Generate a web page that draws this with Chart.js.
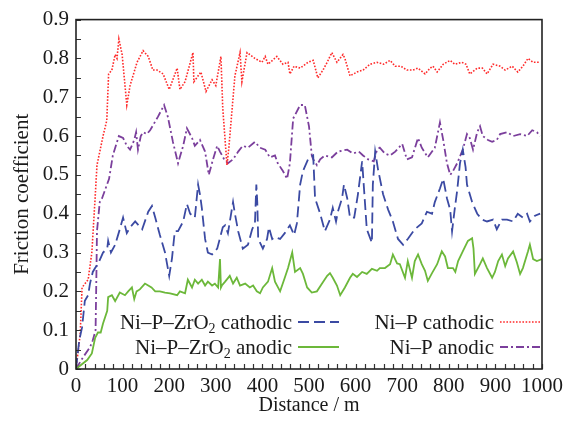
<!DOCTYPE html>
<html>
<head>
<meta charset="utf-8">
<script src="https://cdn.jsdelivr.net/npm/chart.js@4"></script>
<style>
  html, body { margin: 0; padding: 0; background: #fff; }
  canvas { display: block; }
</style>
</head>
<body>
<canvas id="frictionChart" width="568" height="425"></canvas>
<script>
// series labels (the "2" after ZrO is drawn as a subscript)
const seriesNames = ["Ni–P–ZrO2 cathodic", "Ni–P–ZrO2 anodic", "Ni–P cathodic", "Ni–P anodic"];

// x tick labels
const distanceTicks = [0, 100, 200, 300, 400, 500, 600, 700, 800, 900, 1000];

// Ni-P-ZrO2 cathodic (blue dashed)
const zrCathodicDist = [0, 7, 13, 19, 26, 30, 36, 41, 47, 58, 67, 69, 75, 84, 94, 101, 109, 116, 127, 142, 155, 163, 170, 180, 191, 200, 206, 212, 219, 230, 238, 245, 255, 262, 266, 270, 277, 283, 292, 303, 315, 320, 326, 337, 341, 348, 358, 369, 378, 384, 387, 389, 391, 401, 410, 414, 421, 427, 438, 448, 459, 468, 474, 481, 487, 498, 509, 513, 524, 534, 545, 551, 558, 562, 571, 575, 582, 588, 597, 605, 614, 624, 635, 637, 642, 648, 659, 670, 680, 691, 702, 712, 727, 742, 753, 764, 770, 781, 788, 796, 803, 807, 813, 818, 824, 830, 836, 839, 850, 861, 871, 882, 895, 903, 914, 925, 938, 948, 959, 968, 974, 985, 996];
const zrCathodicVal = [0, 0.074, 0.107, 0.176, 0.19, 0.22, 0.25, 0.26, 0.27, 0.30, 0.31, 0.33, 0.30, 0.32, 0.36, 0.39, 0.35, 0.365, 0.38, 0.36, 0.405, 0.42, 0.39, 0.345, 0.30, 0.24, 0.285, 0.355, 0.355, 0.38, 0.425, 0.40, 0.39, 0.475, 0.45, 0.415, 0.335, 0.30, 0.295, 0.31, 0.365, 0.37, 0.35, 0.43, 0.40, 0.355, 0.31, 0.32, 0.36, 0.375, 0.475, 0.43, 0.335, 0.31, 0.335, 0.365, 0.335, 0.34, 0.335, 0.35, 0.37, 0.345, 0.375, 0.475, 0.51, 0.54, 0.55, 0.44, 0.40, 0.355, 0.385, 0.415, 0.38, 0.405, 0.44, 0.475, 0.44, 0.39, 0.39, 0.45, 0.535, 0.36, 0.325, 0.475, 0.56, 0.515, 0.45, 0.41, 0.38, 0.335, 0.32, 0.335, 0.36, 0.375, 0.405, 0.40, 0.43, 0.465, 0.49, 0.44, 0.41, 0.355, 0.415, 0.46, 0.53, 0.565, 0.52, 0.475, 0.43, 0.40, 0.385, 0.38, 0.385, 0.36, 0.385, 0.385, 0.38, 0.40, 0.39, 0.40, 0.38, 0.395, 0.40];

// Ni-P-ZrO2 anodic (green solid)
const zrAnodicDist = [0, 24, 34, 41, 47, 53, 58, 67, 69, 77, 84, 94, 105, 112, 120, 125, 130, 137, 148, 155, 162, 170, 180, 191, 202, 217, 223, 234, 240, 249, 255, 262, 270, 277, 283, 292, 298, 305, 309, 311, 313, 320, 330, 337, 345, 352, 363, 373, 380, 388, 395, 401, 412, 421, 427, 438, 448, 455, 464, 470, 481, 487, 496, 506, 517, 528, 539, 545, 551, 560, 567, 577, 588, 594, 603, 614, 624, 635, 646, 652, 663, 674, 680, 689, 695, 706, 712, 721, 727, 734, 742, 749, 755, 764, 775, 781, 785, 792, 798, 809, 814, 820, 830, 841, 850, 853, 856, 867, 873, 882, 893, 899, 906, 914, 921, 927, 938, 946, 953, 959, 970, 974, 981, 989, 1000];
const zrAnodicVal = [0, 0.023, 0.04, 0.08, 0.094, 0.094, 0.117, 0.15, 0.185, 0.19, 0.175, 0.197, 0.19, 0.20, 0.21, 0.18, 0.20, 0.205, 0.22, 0.215, 0.21, 0.20, 0.20, 0.197, 0.195, 0.19, 0.20, 0.195, 0.23, 0.21, 0.23, 0.22, 0.23, 0.215, 0.225, 0.215, 0.22, 0.21, 0.283, 0.21, 0.215, 0.225, 0.24, 0.22, 0.235, 0.215, 0.22, 0.21, 0.215, 0.20, 0.195, 0.21, 0.225, 0.26, 0.225, 0.20, 0.235, 0.26, 0.30, 0.25, 0.26, 0.245, 0.21, 0.197, 0.20, 0.22, 0.24, 0.247, 0.235, 0.215, 0.19, 0.21, 0.235, 0.245, 0.237, 0.25, 0.245, 0.258, 0.253, 0.26, 0.26, 0.27, 0.295, 0.272, 0.27, 0.235, 0.278, 0.235, 0.278, 0.295, 0.27, 0.253, 0.227, 0.247, 0.27, 0.29, 0.303, 0.29, 0.26, 0.26, 0.25, 0.278, 0.303, 0.33, 0.337, 0.31, 0.245, 0.27, 0.285, 0.26, 0.235, 0.25, 0.278, 0.295, 0.265, 0.285, 0.303, 0.275, 0.245, 0.26, 0.303, 0.32, 0.283, 0.278, 0.283];

// Ni-P cathodic (red dotted)
const npCathodicDist = [0, 5, 9, 13, 26, 34, 41, 45, 58, 66, 70, 77, 84, 88, 92, 99, 109, 116, 131, 144, 155, 165, 174, 187, 200, 217, 223, 234, 251, 253, 268, 279, 292, 300, 311, 315, 324, 328, 341, 352, 356, 367, 384, 399, 406, 412, 431, 444, 455, 459, 468, 481, 498, 509, 519, 530, 539, 549, 560, 573, 577, 588, 603, 616, 631, 646, 660, 674, 685, 697, 710, 723, 734, 749, 760, 766, 775, 788, 803, 813, 828, 837, 845, 861, 872, 882, 895, 910, 921, 936, 948, 959, 970, 981, 996];
const npCathodicVal = [0, 0.05, 0.09, 0.21, 0.23, 0.30, 0.44, 0.525, 0.60, 0.64, 0.76, 0.77, 0.81, 0.80, 0.85, 0.81, 0.68, 0.73, 0.79, 0.82, 0.805, 0.77, 0.77, 0.76, 0.72, 0.775, 0.72, 0.74, 0.815, 0.74, 0.765, 0.715, 0.745, 0.73, 0.805, 0.67, 0.525, 0.57, 0.755, 0.815, 0.74, 0.815, 0.80, 0.79, 0.805, 0.785, 0.805, 0.785, 0.79, 0.76, 0.78, 0.775, 0.79, 0.795, 0.75, 0.77, 0.79, 0.815, 0.79, 0.81, 0.80, 0.755, 0.765, 0.77, 0.785, 0.79, 0.785, 0.795, 0.78, 0.78, 0.77, 0.77, 0.775, 0.76, 0.775, 0.78, 0.765, 0.785, 0.795, 0.785, 0.79, 0.785, 0.76, 0.775, 0.775, 0.76, 0.785, 0.78, 0.77, 0.78, 0.765, 0.78, 0.80, 0.79, 0.79];

// Ni-P anodic (purple dash-dot)
const npAnodicDist = [0, 15, 30, 36, 42, 44, 45, 51, 56, 71, 79, 92, 101, 109, 116, 125, 129, 133, 139, 144, 152, 159, 176, 189, 197, 208, 219, 230, 238, 249, 255, 266, 277, 285, 294, 303, 309, 318, 326, 337, 348, 358, 369, 384, 395, 406, 416, 427, 433, 444, 453, 459, 466, 481, 491, 500, 506, 509, 517, 524, 534, 549, 562, 582, 594, 607, 616, 627, 639, 646, 652, 663, 674, 685, 700, 710, 721, 734, 742, 755, 770, 781, 788, 796, 803, 809, 818, 830, 839, 845, 852, 861, 867, 873, 884, 893, 903, 910, 925, 938, 953, 968, 979, 989, 996];
const npAnodicVal = [0, 0.03, 0.056, 0.074, 0.10, 0.26, 0.355, 0.43, 0.44, 0.49, 0.55, 0.60, 0.595, 0.575, 0.565, 0.59, 0.61, 0.565, 0.60, 0.61, 0.605, 0.615, 0.65, 0.68, 0.65, 0.585, 0.53, 0.575, 0.62, 0.595, 0.575, 0.59, 0.56, 0.50, 0.54, 0.575, 0.56, 0.54, 0.53, 0.54, 0.56, 0.575, 0.57, 0.585, 0.57, 0.565, 0.545, 0.55, 0.53, 0.51, 0.49, 0.53, 0.645, 0.68, 0.68, 0.625, 0.55, 0.54, 0.525, 0.54, 0.55, 0.545, 0.56, 0.565, 0.555, 0.56, 0.55, 0.54, 0.535, 0.565, 0.57, 0.555, 0.55, 0.56, 0.58, 0.54, 0.545, 0.595, 0.57, 0.545, 0.57, 0.635, 0.59, 0.53, 0.50, 0.51, 0.53, 0.565, 0.605, 0.595, 0.565, 0.61, 0.625, 0.60, 0.59, 0.585, 0.59, 0.605, 0.61, 0.60, 0.605, 0.60, 0.615, 0.61, 0.60];

const serif = "'Liberation Serif', 'Times New Roman', serif";
const inkColor = "#1a1a1a";

function toPoints(xs, ys) {
  return xs.map((x, i) => ({ x: x, y: ys[i] }));
}

// draws a label, turning the "2" of ZrO2 into a subscript, right aligned at rightX
function drawLabel(ctx, text, rightX, y, size) {
  const parts = text.split("2");
  const subSize = Math.round(size * 0.65);
  ctx.font = size + "px " + serif;
  let width = ctx.measureText(parts[0]).width;
  if (parts.length > 1) {
    ctx.font = subSize + "px " + serif;
    width += ctx.measureText("2").width;
    ctx.font = size + "px " + serif;
    width += ctx.measureText(parts[1]).width;
  }
  let x = rightX - width;
  ctx.textAlign = "left";
  ctx.textBaseline = "alphabetic";
  ctx.fillStyle = inkColor;
  ctx.font = size + "px " + serif;
  ctx.fillText(parts[0], x, y);
  x += ctx.measureText(parts[0]).width;
  if (parts.length > 1) {
    ctx.font = subSize + "px " + serif;
    ctx.fillText("2", x, y + 4);
    x += ctx.measureText("2").width;
    ctx.font = size + "px " + serif;
    ctx.fillText(parts[1], x, y);
  }
}

// frame, inward ticks and the legend
const framePlugin = {
  id: "frame",
  afterDraw(chart) {
    const { ctx, chartArea: area, scales } = chart;
    ctx.save();

    // inward tick marks
    ctx.strokeStyle = "#333";
    ctx.lineWidth = 1.2;
    ctx.beginPath();
    for (let v = 0; v <= 0.9001; v += 0.05) {
      const py = Math.round(scales.y.getPixelForValue(v)) + 0.5;
      ctx.moveTo(area.left, py);
      ctx.lineTo(area.left + 5, py);
    }
    for (let d = 0; d <= 1000; d += 20) {
      const px = Math.round(scales.x.getPixelForValue(d)) + 0.5;
      ctx.moveTo(px, area.bottom);
      ctx.lineTo(px, area.bottom - 5);
    }
    ctx.stroke();

    // box
    ctx.strokeStyle = "#222";
    ctx.lineWidth = 1.6;
    ctx.strokeRect(area.left, area.top, area.right - area.left, area.bottom - area.top);

    // legend: label then line sample, two columns
    const rows = [area.bottom - 47, area.bottom - 22];
    const cols = [{ textRight: 292, lineFrom: 298, lineTo: 339 }, { textRight: 494, lineFrom: 500, lineTo: 540 }];
    chart.data.datasets.forEach((ds, i) => {
      const col = cols[Math.floor(i / 2)];
      const y = rows[i % 2];
      drawLabel(ctx, ds.label, col.textRight, y + 7, 21);
      ctx.strokeStyle = ds.borderColor;
      ctx.lineWidth = ds.borderWidth;
      ctx.setLineDash(ds.borderDash || []);
      ctx.beginPath();
      ctx.moveTo(col.lineFrom, y);
      ctx.lineTo(col.lineTo, y);
      ctx.stroke();
      ctx.setLineDash([]);
    });

    ctx.restore();
  }
};

const ctx = document.getElementById("frictionChart").getContext("2d");

new Chart(ctx, {
  type: "line",
  data: {
    datasets: [
      {
        label: seriesNames[0],
        data: toPoints(zrCathodicDist, zrCathodicVal),
        borderColor: "#3b4aa3",
        borderWidth: 1.8,
        borderDash: [11, 5],
      },
      {
        label: seriesNames[1],
        data: toPoints(zrAnodicDist, zrAnodicVal),
        borderColor: "#6cb83a",
        borderWidth: 1.8,
      },
      {
        label: seriesNames[2],
        data: toPoints(npCathodicDist, npCathodicVal),
        borderColor: "#ff2a2a",
        borderWidth: 1.6,
        borderDash: [1.6, 1.6],
      },
      {
        label: seriesNames[3],
        data: toPoints(npAnodicDist, npAnodicVal),
        borderColor: "#7b3f9c",
        borderWidth: 1.8,
        borderDash: [8, 3, 2, 3],
      },
    ],
  },
  options: {
    responsive: false,
    animation: false,
    elements: {
      point: { radius: 0 },
      line: { tension: 0, fill: false },
    },
    layout: { padding: { top: 16, right: 26, left: 0, bottom: 0 } },
    plugins: {
      legend: { display: false },
      tooltip: { enabled: false },
    },
    scales: {
      x: {
        type: "linear",
        min: 0,
        max: 1000,
        afterBuildTicks: (scale) => {
          scale.ticks = distanceTicks.map((v) => ({ value: v }));
        },
        ticks: {
          font: { family: serif, size: 21 },
          color: inkColor,
          padding: 5,
          maxRotation: 0,
          autoSkip: false,
          callback: (v) => String(v),
        },
        grid: { display: false, drawTicks: false },
        border: { display: false },
        title: {
          display: true,
          text: "Distance / m",
          font: { family: serif, size: 20 },
          color: inkColor,
          padding: { top: 0, bottom: 7 },
        },
        afterFit: (scale) => {
          scale.height = 56;
        },
      },
      y: {
        min: 0,
        max: 0.9,
        ticks: {
          stepSize: 0.1,
          font: { family: serif, size: 21 },
          color: inkColor,
          padding: 7,
          callback: (v) => (v === 0 ? "0" : v.toFixed(1)),
        },
        grid: { display: false, drawTicks: false },
        border: { display: false },
        title: {
          display: true,
          text: "Friction coefficient",
          font: { family: serif, size: 21 },
          color: inkColor,
          padding: { top: 10, bottom: 0 },
        },
        afterFit: (scale) => {
          scale.width = 76;
        },
      },
    },
  },
  plugins: [framePlugin],
});
</script>
</body>
</html>
